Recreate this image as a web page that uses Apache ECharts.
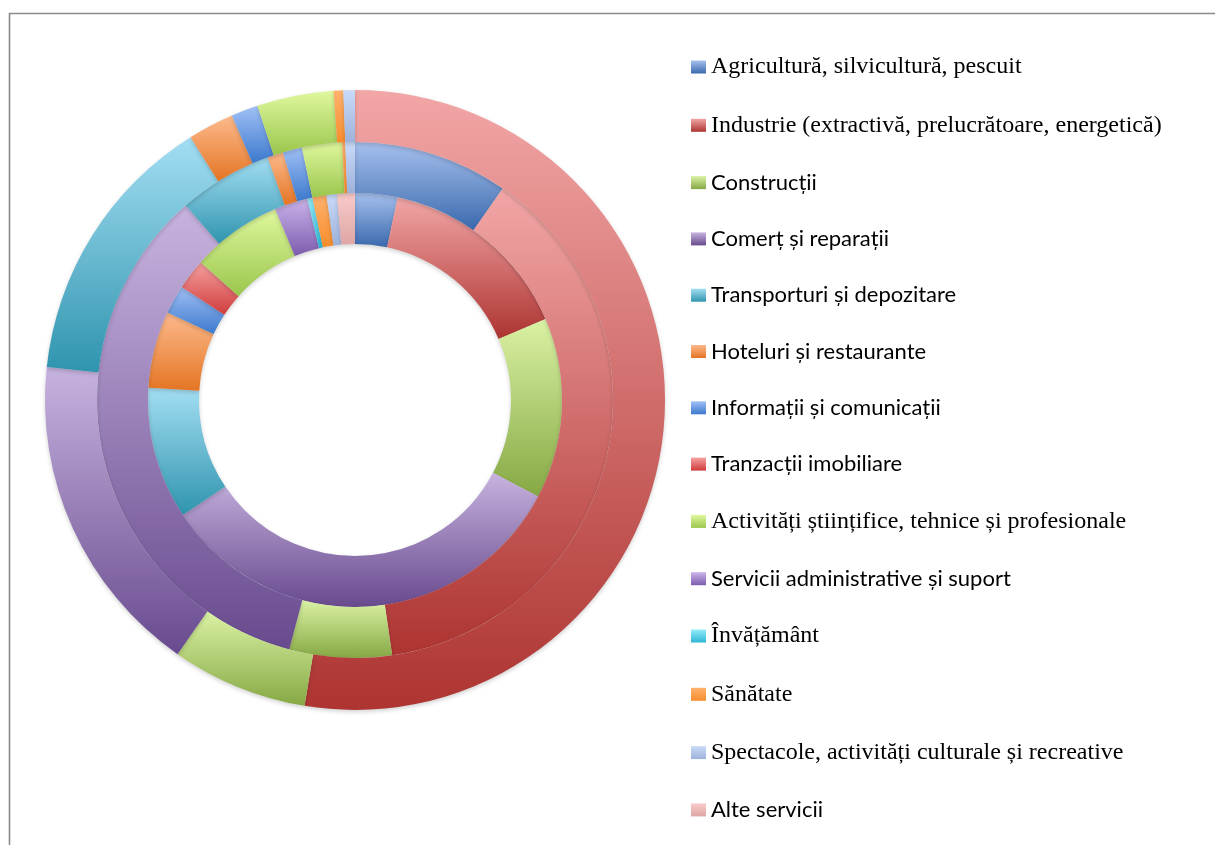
<!DOCTYPE html>
<html>
<head>
<meta charset="utf-8">
<title>Structura pe activități</title>
<script src="https://cdn.jsdelivr.net/npm/echarts@6/dist/echarts.min.js"></script>
<style>
  html, body { margin: 0; padding: 0; background: #fff; }
  #chart { width: 1215px; height: 845px; }
</style>
</head>
<body>
<div id="chart"></div>
<script>
  const categories = [
    'Agricultură, silvicultură, pescuit',
    'Industrie (extractivă, prelucrătoare, energetică)',
    'Construcții',
    'Comerț și reparații',
    'Transporturi și depozitare',
    'Hoteluri și restaurante',
    'Informații și comunicații',
    'Tranzacții imobiliare',
    'Activități științifice, tehnice și profesionale',
    'Servicii administrative și suport',
    'Învățământ',
    'Sănătate',
    'Spectacole, activități culturale și recreative',
    'Alte servicii',
  ];
  // inelul interior
  const innerValues = [3.3, 15.3, 14.1, 32.9, 10.3, 6.0, 2.25, 2.4, 7.1, 2.6, 0.4, 1.1, 0.8, 1.4];
  // inelul din mijloc
  const middleValues = [9.7, 38.0, 6.4, 34.5, 5.9, 1.0, 1.2, 0, 2.5, 0, 0, 0.2, 0.6, 0];
  // inelul exterior
  const outerValues = [0, 52.6, 7.1, 17.0, 14.4, 2.4, 1.4, 0, 4.0, 0, 0, 0.5, 0.6, 0];

  // culori (sus -> jos), stil Office 2007
  const colorStops = [
    ['#a6c0ee', '#3a69ad'],
    ['#f2a6a6', '#ad3431'],
    ['#daf2a4', '#86a844'],
    ['#c7b3df', '#684a8e'],
    ['#a3def3', '#2f94ae'],
    ['#fdba8c', '#e47524'],
    ['#a0c0f6', '#3c79cd'],
    ['#f7a0a0', '#cf3c3c'],
    ['#e0f89e', '#9ac64c'],
    ['#cbb4ea', '#7c5cae'],
    ['#94ecfa', '#2db6d6'],
    ['#ffb26e', '#f78d2c'],
    ['#cadbf9', '#9db2da'],
    ['#f9caca', '#dea6a6'],
  ];
  const serifNames = new Set([
    categories[0], categories[1], categories[8], categories[10], categories[11], categories[12],
  ]);

  const fills = colorStops.map(
    (c) => new echarts.graphic.LinearGradient(0, 0, 0, 1, [
      { offset: 0, color: c[0] },
      { offset: 1, color: c[1] },
    ])
  );

  function ring(values, radius) {
    return {
      type: 'pie',
      center: [355, 400],
      radius: radius,
      startAngle: 90,
      clockwise: true,
      silent: true,
      avoidLabelOverlap: false,
      label: { show: false },
      labelLine: { show: false },
      emphasis: { disabled: true },
      itemStyle: {
        borderWidth: 0,
        shadowBlur: 4,
        shadowOffsetY: 2,
        shadowColor: 'rgba(0,0,0,0.18)',
      },
      data: categories.map((name, i) => ({
        name: name,
        value: values[i],
        itemStyle: { color: fills[i] },
      })),
    };
  }

  const chart = echarts.init(document.getElementById('chart'));
  const option = {
    animation: false,
    graphic: [
      {
        type: 'rect',
        shape: { x: 9.5, y: 13.5, width: 1400, height: 1000 },
        style: { fill: null, stroke: '#8a8a8a', lineWidth: 1.6 },
        silent: true,
      },
    ],
    legend: {
      orient: 'vertical',
      left: 691,
      top: 55,
      padding: 0,
      icon: 'rect',
      itemWidth: 15,
      itemHeight: 13,
      itemGap: 34.3,
      selectedMode: false,
      data: categories,
      formatter: (name) => (serifNames.has(name) ? `{s|${name}}` : `{n|${name}}`),
      textStyle: {
        color: '#000',
        rich: {
          s: { fontFamily: 'Liberation Serif', fontSize: 24, lineHeight: 28, color: '#000' },
          n: { fontFamily: 'Lato', fontSize: 22, lineHeight: 28, color: '#000' },
        },
      },
    },
    series: [
      ring(innerValues, [156, 207]),
      ring(middleValues, [207, 258]),
      ring(outerValues, [258, 310]),
    ],
  };
  chart.setOption(option);
</script>
</body>
</html>
